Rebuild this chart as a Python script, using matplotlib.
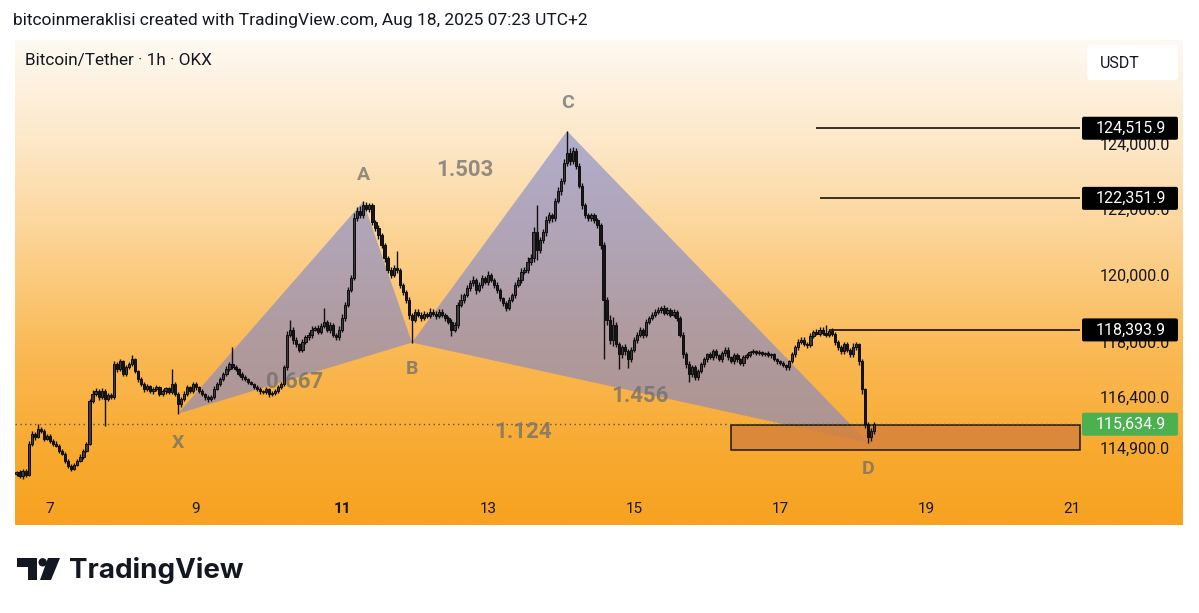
import numpy as np
import pandas as pd
import matplotlib
matplotlib.use("Agg")
import matplotlib.pyplot as plt
import matplotlib.dates as mdates
from matplotlib.colors import LinearSegmentedColormap
from matplotlib.patches import Polygon, Rectangle, FancyBboxPatch, Circle
from matplotlib.ticker import NullLocator

plt.rcParams['font.family'] = ['Roboto', 'DejaVu Sans']

# BTC/USDT 1h candles (UTC+2), first candle Aug 6 13:00, open = previous close
start = "2025-08-06 13:00"
first_open = 114200
close = [
    114250, 114140, 114300, 114190, 115070, 115360, 115270, 115500, 115445, 115215,
    115300, 115160, 115070, 115015, 114875, 114790, 114590, 114420, 114360, 114475,
    114590, 114705, 114875, 115070, 116305, 116510, 116595, 116420, 116595, 116365,
    116480, 116420, 117380, 117235, 117465, 117090, 117290, 117380, 117525, 117175,
    116945, 116800, 116655, 116740, 116595, 116655, 116710, 116510, 116595, 116680,
    116565, 116800, 116510, 116220, 116365, 116510, 116710, 116595, 116800, 116710,
    116595, 116510, 116420, 116365, 116420, 116655, 116800, 116945, 117090, 117235,
    117380, 117290, 117235, 117090, 117000, 116945, 116855, 116800, 116710, 116655,
    116595, 116565, 116655, 116510, 116540, 116595, 116710, 116800, 117290, 118255,
    118405, 118110, 117965, 117815, 118050, 118170, 118255, 118405, 118460, 118345,
    118520, 118640, 118405, 118550, 118255, 118170, 118405, 118755, 119140, 119585,
    119940, 121740, 121980, 121830, 122135, 122040, 122135, 121620, 121440, 121225,
    120925, 120535, 120180, 120030, 120240, 120180, 119735, 119525, 119285, 118845,
    118695, 118930, 118845, 118755, 118875, 118815, 118930, 118875, 118815, 118930,
    118845, 118755, 118640, 118405, 118550, 119140, 119285, 119435, 119645, 119795,
    119880, 119585, 119735, 119940, 119820, 120030, 119880, 119735, 119585, 119345,
    119200, 119050, 119285, 119435, 119735, 119880, 120120, 120180, 120415, 120535,
    121315, 120775, 121075, 121315, 121680, 121830, 121740, 122285, 122590, 122895,
    123445, 123750, 123505, 123810, 123350, 122740, 122135, 121830, 121740, 121830,
    121680, 121530, 120925, 119285, 118695, 118110, 118550, 117965, 117670, 117875,
    117760, 117525, 117815, 118110, 118255, 118405, 118255, 118640, 118755, 118845,
    118930, 118990, 119050, 118905, 118990, 118845, 118930, 118755, 118255, 117670,
    117380, 117090, 117290, 117000, 117175, 117380, 117525, 117670, 117585, 117760,
    117640, 117525, 117700, 117815, 117585, 117465, 117640, 117525, 117410, 117585,
    117640, 117730, 117760, 117700, 117730, 117670, 117700, 117640, 117670, 117525,
    117465, 117410, 117350, 117290, 117465, 117670, 117875, 118050, 118110, 117990,
    117935, 118225, 118345, 118285, 118405, 118315, 118255, 118375, 118285, 118050,
    117875, 117760, 117965, 117815, 117670, 117875, 117965, 117465, 116655, 115645,
    115275, 115445, 115634.9]
# wick length above max(open, close) and below min(open, close), in USDT
wick_up = [
    40, 60, 50, 40, 80, 90, 60, 150, 60, 50,
    60, 40, 50, 70, 40, 60, 50, 40, 60, 50,
    40, 60, 50, 40, 60, 120, 80, 60, 90, 60,
    70, 50, 90, 80, 60, 50, 70, 60, 115, 50,
    40, 60, 50, 60, 40, 50, 70, 40, 60, 50,
    40, 435, 60, 50, 60, 80, 70, 40, 60, 50,
    40, 50, 40, 50, 60, 80, 60, 70, 50, 90,
    80, 495, 60, 40, 50, 60, 40, 50, 40, 60,
    50, 40, 60, 40, 50, 60, 50, 70, 60, 120,
    290, 80, 60, 50, 70, 60, 80, 90, 60, 70,
    80, 410, 60, 90, 50, 60, 90, 120, 80, 100,
    90, 150, 110, 130, 130, 120, 80, 70, 60, 90,
    80, 60, 70, 90, 100, 505, 60, 70, 50, 80,
    60, 90, 70, 80, 90, 60, 110, 70, 80, 90,
    70, 60, 50, 80, 70, 90, 180, 70, 90, 80,
    110, 60, 90, 80, 70, 120, 60, 50, 80, 60,
    40, 60, 90, 70, 100, 80, 110, 90, 150, 120,
    160, 820, 110, 90, 120, 100, 90, 80, 110, 90,
    120, 680, 150, 110, 90, 80, 70, 60, 90, 70,
    60, 80, 70, 110, 90, 150, 220, 80, 70, 60,
    90, 70, 60, 80, 90, 70, 60, 80, 60, 90,
    70, 80, 60, 90, 70, 60, 80, 50, 60, 70,
    60, 90, 80, 60, 70, 80, 60, 50, 70, 60,
    80, 50, 60, 70, 60, 50, 80, 60, 50, 70,
    60, 50, 70, 40, 60, 50, 40, 60, 50, 40,
    50, 40, 60, 50, 40, 60, 70, 80, 60, 70,
    50, 80, 60, 90, 70, 80, 235, 60, 80, 50,
    60, 70, 80, 60, 50, 120, 80, 50, 60, 40,
    60, 80, 70]
wick_dn = [
    60, 50, 70, 60, 50, 60, 80, 40, 70, 50,
    40, 60, 50, 40, 70, 50, 60, 50, 60, 40,
    50, 40, 60, 50, 40, 60, 50, 70, 60, 775,
    60, 50, 40, 70, 60, 50, 60, 50, 40, 60,
    70, 50, 80, 60, 50, 70, 60, 50, 60, 80,
    60, 50, 70, 285, 90, 70, 60, 50, 60, 70,
    50, 60, 70, 80, 60, 50, 40, 60, 50, 40,
    60, 50, 40, 60, 70, 50, 60, 40, 50, 60,
    70, 60, 50, 80, 60, 50, 40, 60, 50, 70,
    80, 120, 90, 60, 80, 70, 60, 90, 50, 70,
    60, 80, 70, 90, 60, 80, 70, 60, 90, 80,
    70, 60, 80, 90, 70, 60, 100, 90, 80, 110,
    90, 100, 80, 90, 70, 80, 90, 100, 90, 120,
    675, 80, 70, 90, 60, 80, 70, 60, 90, 70,
    80, 90, 60, 200, 80, 90, 70, 80, 60, 90,
    80, 110, 70, 90, 60, 80, 70, 90, 80, 100,
    90, 110, 80, 70, 90, 60, 80, 70, 90, 80,
    100, 280, 90, 80, 100, 90, 110, 80, 90, 120,
    90, 100, 120, 90, 110, 80, 100, 90, 80, 70,
    90, 80, 100, 1760, 150, 120, 200, 90, 435, 100,
    110, 260, 90, 80, 100, 70, 90, 80, 60, 70,
    80, 60, 90, 70, 80, 60, 70, 90, 80, 110,
    100, 235, 90, 80, 70, 60, 80, 70, 60, 80,
    70, 60, 80, 70, 90, 60, 70, 80, 60, 70,
    50, 60, 40, 60, 50, 40, 60, 50, 70, 60,
    70, 60, 50, 80, 70, 60, 80, 70, 60, 80,
    70, 60, 80, 50, 70, 60, 80, 70, 60, 90,
    80, 70, 90, 60, 80, 70, 60, 110, 150, 120,
    175, 120, 90]

# XABCD harmonic pattern
pat_names = ["X", "A", "B", "C", "D"]
pat_times = ["2025-08-08 18:00", "2025-08-11 07:00", "2025-08-11 23:00",
             "2025-08-14 02:00", "2025-08-18 05:00"]
pat_prices = [115935, 122255, 118020, 124430, 115100]
ratio_pairs = [(0, 2), (1, 3), (2, 4), (0, 4)]
ratio_labels = ["0.667", "1.503", "1.456", "1.124"]

# drawn levels
level_prices = [124515.9, 122351.9, 118393.9]
level_starts = ["2025-08-17 12:00", "2025-08-17 13:00", "2025-08-17 16:00"]
last_price = 115634.9
zone_start = "2025-08-16 08:00"
zone_top, zone_bottom = 115610, 114880

axis_prices = [124000, 122000, 120000, 118000, 116400, 114900]
day_ticks = [7, 9, 11, 13, 15, 17, 19, 21]

# ------------------------------------------------------------------
times = pd.date_range(start, periods=len(close), freq="h")
xs = mdates.date2num(times)
c = np.array(close, float)
o = np.r_[first_open, c[:-1]]
hi = np.maximum(o, c) + np.array(wick_up)
lo = np.minimum(o, c) - np.array(wick_dn)

W, H = 1199, 613
fig = plt.figure(figsize=(W / 100, H / 100), dpi=100)
fig.patch.set_facecolor('white')

def frac(x0, y0, x1, y1):
    return [x0 / W, 1 - y1 / H, (x1 - x0) / W, (y1 - y0) / H]

# gradient panel
bg = fig.add_axes(frac(15, 40, 1183, 525), zorder=0)
cmap = LinearSegmentedColormap.from_list('tv_bg', [
    (0, '#fef9f2'), (0.23, '#fde6c3'), (0.44, '#fcd08c'),
    (0.64, '#fab955'), (0.85, '#f8aa30'), (1, '#f7a220')])
bg.imshow(np.linspace(0, 1, 256).reshape(-1, 1), aspect='auto', cmap=cmap,
          extent=(0, 1, 0, 1))
bg.axis('off')

ax = fig.add_axes(frac(15, 40, 1080, 490), zorder=1)
ax.patch.set_alpha(0)
ax.set_yscale('log')
ax.set_ylim(113749, 127293)
ax.set_xlim(mdates.date2num(pd.Timestamp("2025-08-06 12:30")),
            mdates.date2num(pd.Timestamp("2025-08-21 02:38")))
ax.yaxis.set_major_locator(NullLocator())
ax.yaxis.set_minor_locator(NullLocator())
for s in ax.spines.values():
    s.set_visible(False)

# pattern triangles
px = mdates.date2num(pd.to_datetime(pat_times))
pp = np.array(pat_prices, float)
for tri in [(0, 1, 2), (2, 3, 4)]:
    ax.add_patch(Polygon([(px[k], pp[k]) for k in tri], closed=True,
                         facecolor='#7e85cc', alpha=0.6, lw=0, zorder=1))

# zone box
zx = mdates.date2num(pd.Timestamp(zone_start))
ax.add_patch(Rectangle((zx, zone_bottom), ax.get_xlim()[1] - zx, zone_top - zone_bottom,
                       facecolor='#d6823c', alpha=0.85, edgecolor='black', lw=1.1,
                       zorder=1.5, clip_on=False))

ax.axhline(last_price, color='#55553a', lw=1, ls=(0, (1, 2.5)), zorder=1.6)
for p, t in zip(level_prices, level_starts):
    ax.hlines(p, mdates.date2num(pd.Timestamp(t)), ax.get_xlim()[1], color='black', lw=1.1, zorder=2)

# ratio labels and point letters
for (a, b), lab in zip(ratio_pairs, ratio_labels):
    ax.annotate(lab, ((px[a] + px[b]) / 2, np.sqrt(pp[a] * pp[b])), xytext=(0, -2.5),
                textcoords='offset points', ha='center', va='center',
                fontsize=16, fontweight='bold', color='#6e6e6e', alpha=0.75, zorder=2)
offs = [-21, 19, -19, 20, -19]
for k, name in enumerate(pat_names):
    ax.annotate(name, (px[k], pp[k]), xytext=(0, offs[k]), textcoords='offset points',
                ha='center', va='center', fontsize=14, fontweight='bold',
                color='#6e6e6e', alpha=0.75, zorder=2)

# candles
up = c >= o
ax.vlines(xs, lo, hi, color='#111111', lw=1.0, zorder=3)
body_h = np.maximum(np.abs(c - o), 25)
ax.bar(xs, body_h, bottom=np.minimum(o, c), width=0.74 / 24,
       color=np.where(up, '#403a3e', '#161616'), edgecolor='#0e0e0e', lw=0.7, zorder=4)

ax.set_xticks(mdates.date2num(pd.to_datetime([f"2025-08-{d:02d}" for d in day_ticks])))
ax.set_xticklabels([str(d) for d in day_ticks])
ax.tick_params(axis='x', length=0, pad=8.5, labelsize=11, labelcolor='#131722')
for lbl in ax.get_xticklabels():
    if lbl.get_text() == '11':
        lbl.set_fontweight('bold')

# overlay in pixel coordinates: header, price scale, logo
ov = fig.add_axes([0, 0, 1, 1], zorder=5)
ov.set_xlim(0, W)
ov.set_ylim(H, 0)
ov.axis('off')
ov.patch.set_alpha(0)

def py(p):
    return H - ax.transData.transform((xs[0], p))[1]

ov.text(13, 21, "bitcoinmeraklisi created with TradingView.com, Aug 18, 2025 07:23 UTC+2",
        ha='left', va='center', fontsize=12.5, color='#131722')
ov.text(25, 61, "Bitcoin/Tether · 1h · OKX", ha='left', va='center', fontsize=12.3, color='#131722')

ov.add_patch(FancyBboxPatch((1087, 45), 91, 35, boxstyle='round,pad=0,rounding_size=4',
                            fc='white', ec='none'))
ov.text(1100, 63, "USDT", ha='left', va='center', fontsize=11.5, color='#131722')

for p in axis_prices:
    ov.text(1170, py(p), f"{p:,.1f}", ha='right', va='center', fontsize=11.5, color='#131722')
for p in level_prices + [last_price]:
    y = py(p)
    fc = '#4caf50' if p == last_price else 'black'
    ov.add_patch(FancyBboxPatch((1082, y - 11.5), 96, 23, boxstyle='round,pad=0,rounding_size=2',
                                fc=fc, ec='none', zorder=3))
    ov.text(1131, y, f"{p:,.1f}", ha='center', va='center', fontsize=11.5, color='white', zorder=4)

# TradingView logo
ov.add_patch(Polygon([(17, 558), (37, 558), (37, 580), (28, 580), (28, 567), (17, 567)],
                     closed=True, fc='#131722', ec='none'))
ov.add_patch(Circle((42.7, 562.3), 4.2, fc='#131722', ec='none'))
ov.add_patch(Polygon([(48, 558), (60, 558), (51, 580), (40, 580)], closed=True,
                     fc='#131722', ec='none'))
ov.text(69, 570, "TradingView", ha='left', va='center', fontsize=20, fontweight='bold',
        color='#131722', family=['Inter', 'DejaVu Sans'])

fig.savefig("out.png", dpi=100, facecolor='white')
